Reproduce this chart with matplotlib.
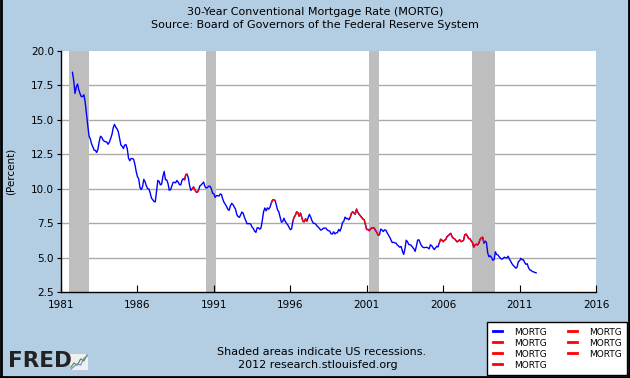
import numpy as np
import matplotlib
matplotlib.use("Agg")
import matplotlib.pyplot as plt
from matplotlib.lines import Line2D

# monthly 30-year mortgage rate, starting Oct 1981
start_year, start_month = 1981, 10
rate_1980s = [18.45, 17.83, 16.92,
              17.40, 17.60, 17.16, 16.89, 16.68, 16.70, 16.82, 16.27, 15.43, 14.61, 13.83, 13.62,
              13.25, 13.04, 12.80, 12.78, 12.63, 12.87, 13.42, 13.81, 13.73, 13.54, 13.44, 13.42,
              13.37, 13.23, 13.39, 13.65, 13.94, 14.42, 14.67, 14.47, 14.35, 14.13, 13.64, 13.18,
              13.08, 12.92, 13.17, 13.20, 12.91, 12.22, 12.03, 12.19, 12.19, 12.14, 11.78, 11.26,
              10.88, 10.71, 10.08, 9.94, 10.14, 10.68, 10.51, 10.20, 10.01, 9.98, 9.70, 9.32,
              9.20, 9.08, 9.04, 9.83, 10.60, 10.54, 10.28, 10.33, 10.89, 11.26, 10.65, 10.64,
              10.38, 9.89, 9.93, 10.20, 10.46, 10.46, 10.43, 10.60, 10.48, 10.30, 10.27, 10.61,
              10.73, 10.65, 11.03, 11.05, 10.77, 10.20, 9.88, 9.99, 10.13, 9.95, 9.77, 9.74]
rate_1990s = [9.90, 10.20, 10.27, 10.37, 10.48, 10.16, 10.04, 10.10, 10.18, 10.18, 10.01, 9.67,
              9.64, 9.37, 9.50, 9.49, 9.47, 9.62, 9.58, 9.24, 9.01, 8.86, 8.71, 8.50,
              8.43, 8.76, 8.94, 8.85, 8.67, 8.51, 8.13, 7.98, 7.92, 8.09, 8.31, 8.22,
              7.92, 7.71, 7.46, 7.46, 7.47, 7.42, 7.21, 7.11, 6.92, 6.83, 7.16, 7.17,
              7.06, 7.15, 7.68, 8.32, 8.60, 8.40, 8.61, 8.51, 8.64, 8.93, 9.17, 9.20,
              9.15, 8.83, 8.46, 8.32, 7.96, 7.57, 7.61, 7.86, 7.64, 7.48, 7.38, 7.20,
              7.03, 7.08, 7.62, 7.93, 8.07, 8.32, 8.25, 8.00, 8.23, 7.92, 7.62, 7.60,
              7.82, 7.65, 7.90, 8.14, 7.94, 7.69, 7.50, 7.48, 7.43, 7.29, 7.21, 7.10,
              6.99, 7.04, 7.13, 7.14, 7.14, 7.00, 6.95, 6.92, 6.72, 6.71, 6.87, 6.72,
              6.79, 6.81, 7.04, 6.92, 7.15, 7.55, 7.63, 7.94, 7.82, 7.85, 7.74, 7.91]
rate_2000s = [8.21, 8.33, 8.24, 8.15, 8.52, 8.29, 8.15, 8.03, 7.91, 7.80, 7.75, 7.38,
              7.03, 7.05, 6.95, 7.08, 7.15, 7.16, 7.13, 6.95, 6.82, 6.62, 6.66, 7.07,
              7.00, 6.89, 7.01, 6.99, 6.81, 6.65, 6.49, 6.29, 6.09, 6.11, 6.07, 6.05,
              5.92, 5.84, 5.75, 5.81, 5.48, 5.23, 5.63, 6.26, 6.15, 5.95, 5.93, 5.88,
              5.74, 5.64, 5.45, 5.83, 6.27, 6.29, 6.06, 5.87, 5.75, 5.72, 5.73, 5.75,
              5.71, 5.63, 5.93, 5.86, 5.72, 5.58, 5.70, 5.82, 5.77, 6.07, 6.33, 6.27,
              6.15, 6.25, 6.32, 6.51, 6.60, 6.68, 6.76, 6.52, 6.40, 6.36, 6.24, 6.14,
              6.22, 6.29, 6.16, 6.18, 6.26, 6.66, 6.70, 6.57, 6.38, 6.38, 6.21, 6.10,
              5.76, 5.92, 5.97, 5.92, 6.04, 6.32, 6.43, 6.48, 6.04, 6.20, 6.09, 5.33,
              5.06, 5.13, 5.00, 4.81, 4.86, 5.42, 5.22, 5.19, 5.06, 4.95, 4.88, 4.93]
rate_2010s = [5.03, 4.99, 4.97, 5.10, 4.89, 4.74, 4.56, 4.43, 4.35, 4.23, 4.30, 4.71,
              4.76, 4.95, 4.84, 4.84, 4.64, 4.51, 4.55, 4.27, 4.11, 4.07, 3.99, 3.96,
              3.92, 3.89]

# highlighted (red) stretches, (first month, last month)
red_periods = [((1989, 2), (1989, 4)), ((1989, 8), (1990, 1)), ((1994, 10), (1995, 1)),
               ((1996, 3), (1997, 2)), ((1999, 12), (2001, 11)), ((2005, 10), (2008, 9))]

# recessions (start, end) as fractional years
recessions = [(1981.5, 1982.83), (1990.5, 1991.17), (2001.17, 2001.83), (2007.92, 2009.42)]

years = list(range(1981, 2017, 5))
yticks = np.arange(2.5, 20.01, 2.5)

rate = np.array(rate_1980s + rate_1990s + rate_2000s + rate_2010s)
t = start_year + (start_month - 1) / 12 + np.arange(len(rate)) / 12

bg = '#b3cde3'
fig = plt.figure(figsize=(6.3, 3.78), dpi=100, facecolor=bg)
ax = fig.add_axes([61 / 630, 86 / 378, 535 / 630, 241 / 378])

for a, b in recessions:
    ax.axvspan(a, b, color='#bebebe', lw=0, zorder=1)

for y in yticks[1:-1]:
    ax.axhline(y, color='#aaaaaa', lw=1, zorder=0.5)

ax.plot(t, rate, color='blue', lw=1, label='MORTG', zorder=3)
for (y0, m0), (y1, m1) in red_periods:
    i0 = (y0 - start_year) * 12 + m0 - start_month
    i1 = (y1 - start_year) * 12 + m1 - start_month
    ax.plot(t[i0:i1 + 1], rate[i0:i1 + 1], color='red', lw=1, label='MORTG', zorder=4)

ax.set_xlim(1981, 2016)
ax.set_ylim(2.5, 20)
ax.set_xticks(years)
ax.set_xticklabels([str(y) for y in years])
ax.set_yticks(yticks)
ax.set_yticklabels(['%.1f' % v for v in yticks])
ax.tick_params(axis='x', direction='in', length=5, labelsize=7.5, pad=6)
ax.tick_params(axis='y', direction='out', length=3, labelsize=7.5, pad=2)
for s in ['top', 'right']:
    ax.spines[s].set_visible(False)
for s in ['left', 'bottom']:
    ax.spines[s].set_color('black')
    ax.spines[s].set_linewidth(1)
ax.set_ylabel('(Percent)', fontsize=7.5)
ax.yaxis.set_label_coords(-0.085, 0.5)

fig.text(315 / 630, 1 - 12 / 378, '30-Year Conventional Mortgage Rate (MORTG)',
         ha='center', va='center', fontsize=8)
fig.text(315 / 630, 1 - 25 / 378, 'Source: Board of Governors of the Federal Reserve System',
         ha='center', va='center', fontsize=8)
fig.text(322 / 630, 1 - 352 / 378, 'Shaded areas indicate US recessions.',
         ha='center', va='center', fontsize=8)
fig.text(318 / 630, 1 - 365 / 378, '2012 research.stlouisfed.org',
         ha='center', va='center', fontsize=8)

leg = fig.legend(loc='lower right', bbox_to_anchor=(627 / 630, 3 / 378), ncol=2,
                 fontsize=6.5, frameon=True, fancybox=False, framealpha=1,
                 handlelength=1.0, handletextpad=1.3, columnspacing=2.4,
                 labelspacing=0.22, borderpad=0.6, borderaxespad=0)
leg.get_frame().set_edgecolor('black')
leg.get_frame().set_linewidth(1)
for ln in leg.get_lines():
    ln.set_linewidth(2)

# FRED logo
fig.text(8 / 630, 1 - 361 / 378, 'FRED', ha='left', va='center', fontsize=15.5,
         fontweight='heavy', color='#222222')
icon = fig.add_axes([70 / 630, 1 - 370 / 378, 18 / 630, 16 / 378], facecolor='#f0f0f0')
icon.plot([0, 1, 2, 3, 4, 5], [1, 2, 1.5, 3, 2.5, 4], color='#4a8a3a', lw=0.8)
icon.plot([0, 1, 2, 3, 4, 5], [0.5, 1.2, 1.8, 1.5, 3.2, 3.6], color='#6a8ac8', lw=0.8)
icon.set_xticks([])
icon.set_yticks([])
for s in icon.spines.values():
    s.set_visible(False)

# dark frame on left, bottom and right edges
for xs, ys in [([0.002, 0.002], [0, 1]), ([0, 1], [0.003, 0.003]), ([0.998, 0.998], [0, 1])]:
    fig.add_artist(Line2D(xs, ys, transform=fig.transFigure, color='black', lw=2))

fig.savefig('out.png', dpi=100, facecolor=bg)
